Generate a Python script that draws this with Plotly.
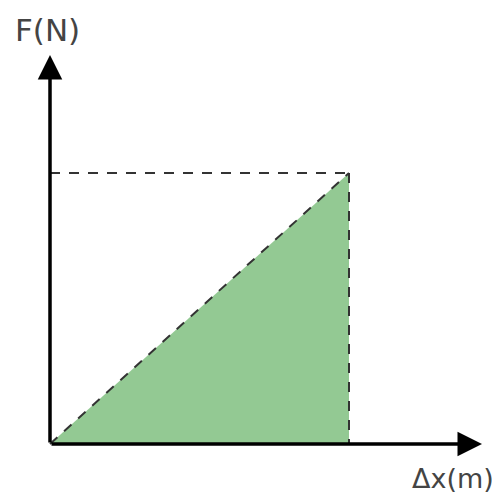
import plotly.graph_objects as go

# work done by a spring: F grows linearly with the stretch
displacement = [0, 1]
force = [0, 1]
x_label = "Δx(m)"
y_label = "F(N)"

green = "#93c993"
dash_col = "#333333"

# the page body adds an 8px margin, so figure pixels sit 8px up/left of the screen
x0_px, y0_px = 42, 436     # origin in figure pixels
px_x, px_y = 299, 271      # pixels per unit

fig = go.Figure()

# shaded area under the line
fig.add_trace(go.Scatter(
    x=[displacement[0], displacement[1], displacement[1], displacement[0]],
    y=[force[0], force[1], force[0], force[0]],
    fill="toself", fillcolor=green, mode="lines", line=dict(width=0),
    hoverinfo="skip"))

# dashed guides: the line itself, plus the level of F and of Δx
dash = dict(color=dash_col, width=2, dash="10px,9px")
fig.add_trace(go.Scatter(x=displacement, y=force, mode="lines", line=dash))
fig.add_trace(go.Scatter(x=[displacement[0], displacement[1]], y=[force[1], force[1]],
                         mode="lines", line=dash))
fig.add_trace(go.Scatter(x=[displacement[1], displacement[1]], y=[force[1], force[0]],
                         mode="lines", line=dash))

# axis arrows
x_end = (474 - x0_px) / px_x
y_end = (y0_px - 47) / px_y
for hx, hy in [(x_end, 0), (0, y_end)]:
    fig.add_annotation(x=hx, y=hy, ax=0, ay=0, xref="x", yref="y", axref="x", ayref="y",
                       showarrow=True, arrowhead=2, arrowsize=1.4, arrowwidth=3.5,
                       arrowcolor="black", text="")

fig.add_annotation(x=39 / 500, y=1 - 22 / 494, xref="paper", yref="paper",
                   xanchor="center", yanchor="middle",
                   text=y_label, showarrow=False, font=dict(family="DejaVu Sans", size=31, color="#444"))
fig.add_annotation(x=445 / 500, y=1 - 470 / 494, xref="paper", yref="paper",
                   xanchor="center", yanchor="middle",
                   text=x_label, showarrow=False, font=dict(family="DejaVu Sans", size=27, color="#444"))

fig.update_xaxes(range=[-x0_px / px_x, (500 - x0_px) / px_x], visible=False, fixedrange=True)
fig.update_yaxes(range=[-(494 - y0_px) / px_y, y0_px / px_y], visible=False, fixedrange=True)
fig.update_layout(width=500, height=494, margin=dict(l=0, r=0, t=0, b=0),
                  showlegend=False, plot_bgcolor="white", paper_bgcolor="white")

fig.write_html("out.html")
